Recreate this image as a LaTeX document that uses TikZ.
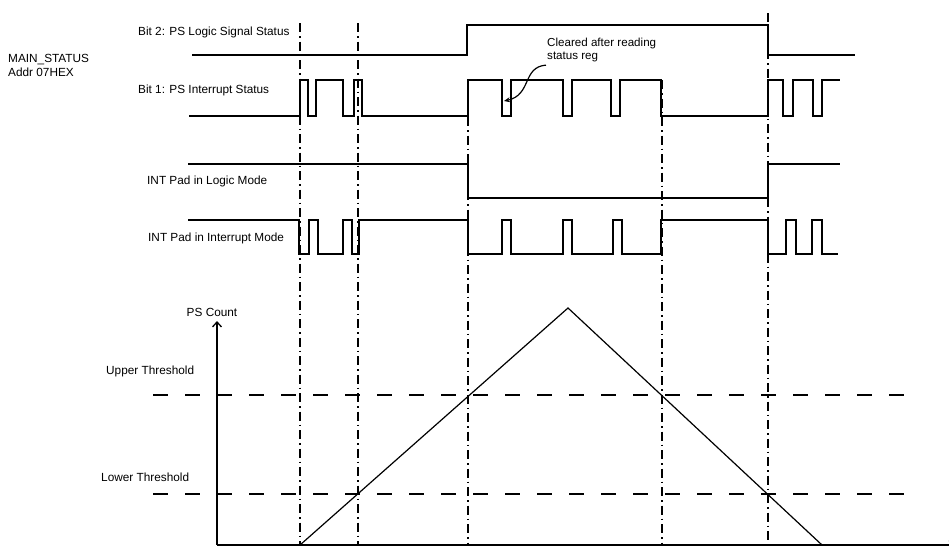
\documentclass[tikz,border=0pt]{standalone}
\usepackage{fontspec}
\setmainfont{Liberation Sans}
\usetikzlibrary{arrows.meta}
\begin{document}
\begin{tikzpicture}[x=1pt,y=-1pt,
  lbl/.style={anchor=west,inner sep=0pt,font=\fontsize{11.8}{14}\selectfont,align=left},
  sig/.style={line width=1.5pt,line join=miter},
  guide/.style={line width=1.2pt,dash pattern=on 9pt off 4pt on 1.5pt off 4pt},
  thr/.style={line width=1.2pt,dash pattern=on 15pt off 17pt},
  axis/.style={line width=1.5pt,-{Straight Barb[length=5pt,width=9pt,line width=1.3pt]}}]
\useasboundingbox (0,0) rectangle (949,546);
% labels
\node[lbl] (ms) at (8,65) {MAIN\_STATUS\\Addr 07HEX};
\node[lbl] (b2) at (138,32) {Bit 2: PS Logic Signal Status};
\node[lbl] (b1) at (138,90) {Bit 1: PS Interrupt Status};
\node[lbl] (lm) at (147,181) {INT Pad in Logic Mode};
\node[lbl] (im) at (148,238) {INT Pad in Interrupt Mode};
\node[lbl,font=\fontsize{11.6}{13}\selectfont] (cl) at (547,50) {Cleared after reading\\status reg};
\node[lbl,anchor=center] (psc) at (212,312) {PS Count};
\node[lbl] (ut) at (106,371) {Upper Threshold};
\node[lbl] (lt) at (101,477) {Lower Threshold};
% guides
\foreach \gx/\gt/\gb in {300/23/545,358/23/545,468/80/545,662/80/545,768/13/540}
  \draw[guide] (\gx,\gt) -- (\gx,\gb);
% Bit 2
\draw[sig] (192,55)--(467,55)--(467,25)--(768,25)--(768,55)--(855,55);
% Bit 1
\draw[sig] (189,116)--(300,116)--(300,80)--(308,80)--(308,116)--(316,116)--(316,80)--(343,80)--(343,116)--(354,116)--(354,80)--(362,80)--(362,116)--(468,116)--(468,80)--(502,80)--(502,116)--(511,116)--(511,80)--(563,80)--(563,116)--(572,116)--(572,80)--(611,80)--(611,116)--(620,116)--(620,80)--(661,80)--(661,116)--(768,116)--(768,80)--(783,80)--(783,116)--(793,116)--(793,80)--(813,80)--(813,116)--(822,116)--(822,80)--(840,80);
% INT logic mode
\draw[sig] (188,164)--(468,164)--(468,198)--(768,198)--(768,164)--(840,164);
% INT interrupt mode
\draw[sig] (188,220)--(299,220)--(299,254)--(309,254)--(309,220)--(318,220)--(318,254)--(343,254)--(343,220)--(352,220)--(352,254)--(359,254)--(359,220)--(468,220)--(468,254)--(502,254)--(502,220)--(511,220)--(511,254)--(563,254)--(563,220)--(572,220)--(572,254)--(613,254)--(613,220)--(622,220)--(622,254)--(661,254)--(661,220)--(768,220)--(768,254)--(786,254)--(786,220)--(796,220)--(796,254)--(812,254)--(812,220)--(822,220)--(822,254)--(838,254);
% cleared arrow
\coordinate (clt) at (504,101);
\draw[line width=1.2pt,-{Stealth[length=6pt,width=5pt]}] (cl.south west) ++(-1,3) .. controls (522,67) and (532,95) .. (clt);
% thresholds
\draw[thr] (153,395) -- (905,395);
\draw[thr] (153,494) -- (905,494);
% axes
\coordinate (org) at (217,545);
\coordinate (ytop) at (217,321);
\coordinate (xend) at (955,545);
\draw[axis] (org) -- (ytop);
\draw[axis] (org) -- (xend);
% PS count
\draw[line width=1.2pt,line join=miter] (300,545)--(568,308)--(822,545);
\end{tikzpicture}
\end{document}
